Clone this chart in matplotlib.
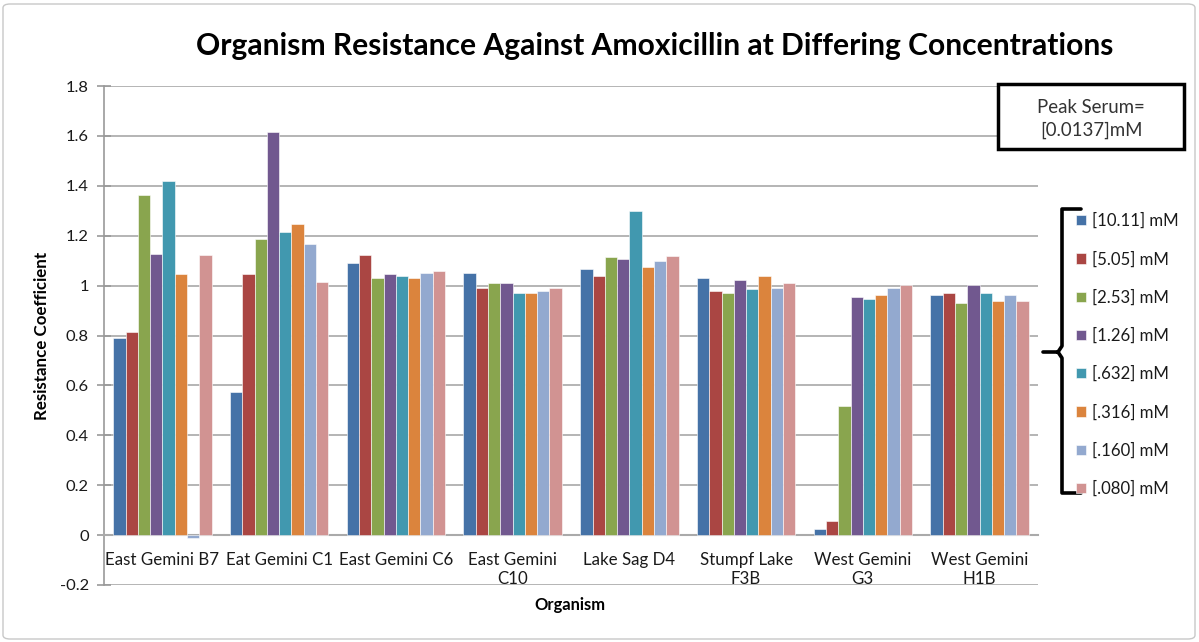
import matplotlib
matplotlib.use("Agg")
import matplotlib.pyplot as plt
import numpy as np
from matplotlib.patches import Rectangle, FancyBboxPatch, PathPatch
from matplotlib.path import Path

plt.rcParams['font.family'] = ['Lato', 'DejaVu Sans']

organisms = ["East Gemini B7", "Eat Gemini C1", "East Gemini C6", "East Gemini\nC10",
             "Lake Sag D4", "Stumpf Lake\nF3B", "West Gemini\nG3", "West Gemini\nH1B"]
concentrations = ["[10.11] mM", "[5.05] mM", "[2.53] mM", "[1.26] mM",
                  "[.632] mM", "[.316] mM", "[.160] mM", "[.080] mM"]

# resistance coefficient per concentration, one value per organism
c_10_11 = [0.79, 0.575, 1.09, 1.052, 1.067, 1.03, 0.025, 0.961]
c_5_05 = [0.813, 1.046, 1.122, 0.992, 1.038, 0.979, 0.055, 0.971]
c_2_53 = [1.365, 1.187, 1.03, 1.011, 1.113, 0.971, 0.516, 0.932]
c_1_26 = [1.127, 1.614, 1.047, 1.011, 1.105, 1.023, 0.955, 1.002]
c_0_632 = [1.419, 1.216, 1.039, 0.971, 1.298, 0.986, 0.948, 0.971]
c_0_316 = [1.046, 1.246, 1.03, 0.971, 1.075, 1.038, 0.963, 0.94]
c_0_160 = [-0.01, 1.165, 1.052, 0.978, 1.097, 0.992, 0.991, 0.961]
c_0_080 = [1.121, 1.016, 1.059, 0.991, 1.119, 1.011, 1.002, 0.94]

series = [c_10_11, c_5_05, c_2_53, c_1_26, c_0_632, c_0_316, c_0_160, c_0_080]
colors = ['#4572A7', '#AA4643', '#89A54E', '#71588F',
          '#4198AF', '#DB843D', '#93A9CF', '#D19392']

W, H = 1199, 642
fig = plt.figure(figsize=(W / 100, H / 100), dpi=100)
renderer = fig.canvas.get_renderer()


def fx(px):
    return px / W


def fy(py):
    return 1 - py / H


def size_for(text, target_px, **kw):
    """Font size at which `text` spans target_px horizontally."""
    probe = fig.text(0.5, 0.5, text, fontsize=10, **kw)
    width = probe.get_window_extent(renderer).width
    probe.remove()
    return 10 * target_px / width


tick_fs = size_for("East Gemini B7", 113)
ytick_fs = size_for("1.8", 23)
leg_fs = size_for("[10.11] mM", 87)
peak_fs = size_for("Peak Serum=", 108)
title_fs = size_for("Organism Resistance Against Amoxicillin at Differing Concentrations",
                    916, fontweight='bold')
ylab_fs = size_for("Resistance Coefficient", 168, fontweight='bold')
xlab_fs = size_for("Organism", 71, fontweight='bold')

plt.rcParams['xtick.labelsize'] = tick_fs
plt.rcParams['ytick.labelsize'] = ytick_fs

ax = fig.add_axes([fx(104), fy(585), fx(1038) - fx(104), fy(86) - fy(585)])

n = len(series)
w = 1.0 / (n + 1.5)
x = np.arange(len(organisms))
handles = []
for i, (vals, col) in enumerate(zip(series, colors)):
    h = ax.bar(x + (i - (n - 1) / 2) * w, vals, width=w, color=col,
               edgecolor='white', linewidth=0.4, zorder=3, label=concentrations[i])
    handles.append(h)

ax.set_xlim(-0.5, len(organisms) - 0.5)
ax.set_ylim(-0.2, 1.8)
ax.set_yticks(np.arange(-0.2, 1.81, 0.2))
ax.set_yticklabels(['-0.2', '0', '0.2', '0.4', '0.6', '0.8', '1', '1.2', '1.4', '1.6', '1.8'])
ax.yaxis.grid(True, color='#a0a0a0', linewidth=1.1, zorder=0)
ax.set_axisbelow(True)

ax.set_xticks(x)
ax.set_xticklabels(organisms, linespacing=1.38, va='top')
for lab in ax.get_xticklabels():
    lab.set_fontsize(tick_fs)
ax.tick_params(axis='x', length=0, pad=12.5, labelcolor='#1a1a1a')
ax.tick_params(axis='y', direction='inout', length=10,
               color='#999999', width=1.2, pad=6, labelcolor='#1a1a1a')

for side in ['top', 'right']:
    ax.spines[side].set_visible(False)
ax.spines['left'].set_color('#999999')
ax.spines['left'].set_linewidth(1.2)
ax.spines['bottom'].set_position(('data', 0))
ax.spines['bottom'].set_color('#aaaaaa')
ax.spines['bottom'].set_linewidth(1.5)

fig.text(fx(655), fy(46), "Organism Resistance Against Amoxicillin at Differing Concentrations",
         ha='center', va='center', fontsize=title_fs, fontweight='bold')
fig.text(fx(42), fy(336), "Resistance Coefficient", rotation=90,
         ha='center', va='center', fontsize=ylab_fs, fontweight='bold')
fig.text(fx(570), fy(605), "Organism", ha='center', va='center',
         fontsize=xlab_fs, fontweight='bold')

# legend to the right of the plot
fig.legend(handles=handles, labels=concentrations, loc='center left',
           bbox_to_anchor=(fx(1068), fy(355)), frameon=False,
           fontsize=leg_fs, handlelength=0.55, handleheight=0.55,
           handletextpad=0.4, labelspacing=1.31, borderpad=0,
           labelcolor='#1a1a1a')

# curly brace grouping the legend entries
bx, top, bot, tip = 1062, 209, 493, 352
pts = [(1081, top), (bx, top), (bx, tip - 6), (bx - 4, tip), (1043, tip),
       (bx - 4, tip), (bx, tip + 6), (bx, bot), (1081, bot)]
verts = [(fx(px), fy(py)) for px, py in pts]
codes = [Path.MOVETO, Path.LINETO, Path.LINETO, Path.LINETO, Path.LINETO,
         Path.MOVETO, Path.LINETO, Path.LINETO, Path.LINETO]
fig.patches.append(PathPatch(Path(verts, codes), transform=fig.transFigure,
                             fill=False, edgecolor='black', linewidth=2.6,
                             capstyle='round', joinstyle='round'))

# peak serum box
fig.patches.append(Rectangle((fx(998), fy(149)), fx(1184) - fx(998), fy(84) - fy(149),
                             transform=fig.transFigure, facecolor='white',
                             edgecolor='black', linewidth=2.5, zorder=5))
fig.text(fx(1091), fy(119), "Peak Serum=\n[0.0137]mM", ha='center', va='center',
         fontsize=peak_fs, color='#333333', linespacing=1.35, zorder=6)

# chart outline
fig.patches.append(FancyBboxPatch((fx(3), 3 / H), fx(1195) - fx(3), 635 / H,
                                  boxstyle='round,pad=0,rounding_size=0.006',
                                  transform=fig.transFigure, fill=False,
                                  edgecolor='#c8c8c8', linewidth=1.0))

fig.savefig('out.png', dpi=100)
